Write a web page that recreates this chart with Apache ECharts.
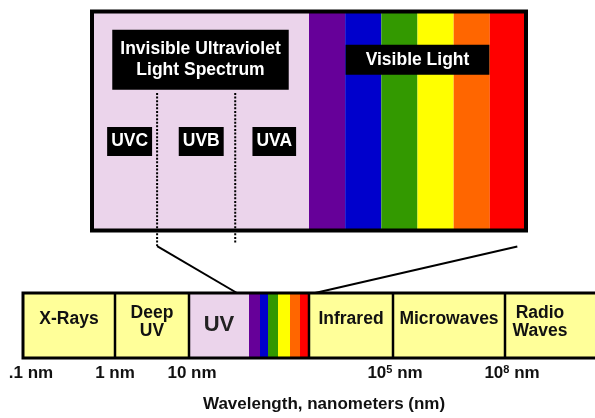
<!DOCTYPE html>
<html><head><meta charset="utf-8">
<script src="https://cdn.jsdelivr.net/npm/echarts@6/dist/echarts.min.js"></script>
<style>html,body{margin:0;padding:0;background:#fff}#c{width:595px;height:418px}</style>
</head><body><div id="c"></div>
<script>
// ================= DATA =================
// Upper (zoomed) panel, wavelength in nm
const uvRange = [100, 400];
const visibleStarts = [400, 450, 500, 550, 600, 650];
const visibleEnds   = [450, 500, 550, 600, 650, 700];
const uvSubNames   = ['UVC', 'UVB', 'UVA'];
const uvSubCenters = [152, 251, 352];
const uvDividers   = [190, 298];
const uvTitle = 'Invisible Ultraviolet\nLight Spectrum';
const uvTitleAt = 250;
const visTitle = 'Visible Light';
const visTitleAt = 550;

// Lower strip, schematic position units
const bandNames  = ['X-Rays', 'Deep\nUV', 'UV', '', 'Infrared', 'Microwaves', 'Radio\nWaves'];
const bandStarts = [0, 92, 166, 226, 286, 370, 482];
const bandEnds   = [92, 166, 226, 286, 370, 482, 552];
const stripStarts = [226, 237, 245, 255, 267, 277];
const stripEnds   = [237, 245, 255, 267, 277, 286];
const dividerAt   = [92, 166, 286, 370, 482];
const tickValues  = [0, 92, 166, 370, 482];
const tickLabels  = ['.1 nm', '1 nm', '10 nm', '10^5 nm', '10^8 nm'];
const axisTitle   = 'Wavelength, nanometers (nm)';

// zoom connectors: [upper panel point (nm, level)] -> [lower strip point]
const connTop    = [[190, -7.1], [688, -7.3]];
const connBottom = [[214, 1], [292, 1]];

// ================= STYLE =================
const FONT = '"Liberation Sans", Arial, Helvetica, sans-serif';
const PINK = '#ebd4eb';
const STRIP_YELLOW = '#ffff99';
const SPECTRUM = ['#660099', '#0000cc', '#339900', '#ffff00', '#ff6600', '#ff0000'];
const bandFill = [STRIP_YELLOW, STRIP_YELLOW, PINK, 'rgba(0,0,0,0)', STRIP_YELLOW, STRIP_YELLOW, STRIP_YELLOW];
const tickNudge = [8, 0, 3, 2, 7];
function font(sz) { return 'bold ' + sz + 'px ' + FONT; }

function rect(api, x0, x1, y0, y1, style) {
  const a = api.coord([x0, y1]), b = api.coord([x1, y0]);
  return { type: 'rect', shape: { x: a[0], y: a[1], width: b[0] - a[0], height: b[1] - a[1] }, style: style };
}

const chart = echarts.init(document.getElementById('c'));

const topStarts = [uvRange[0]].concat(visibleStarts);
const topEnds = [uvRange[1]].concat(visibleEnds);
const topColors = [PINK].concat(SPECTRUM);

const topLabels = [
  { x: uvTitleAt, y: 78, text: uvTitle, pad: [9, 8], lh: 21 },
  { x: visTitleAt, y: 78, text: visTitle, pad: [5, 20], lh: 20 }
].concat(uvSubNames.map((n, i) => ({ x: uvSubCenters[i], y: 40.6, text: n, pad: [4.5, 4], lh: 20 })));

const rich = {
  sup: { fontSize: 11, fontWeight: 'bold', fontFamily: FONT, color: '#111', verticalAlign: 'top', lineHeight: 9 }
};
tickNudge.forEach((n, i) => { rich['g' + i] = { width: 2 * n, fontSize: 17, lineHeight: 18 }; });

const option = {
  animation: false,
  backgroundColor: '#fff',
  textStyle: { fontFamily: FONT },
  title: {
    text: axisTitle, left: 203, top: 396, padding: 0,
    textStyle: { fontSize: 17, fontWeight: 'bold', fontFamily: FONT, color: '#111' }
  },
  grid: [
    { left: 92, right: 69, top: 11.5, height: 219, containLabel: false, outerBoundsMode: 'none' },
    { left: 23, right: 0, top: 293, height: 65, containLabel: false, outerBoundsMode: 'none' }
  ],
  xAxis: [
    { gridIndex: 0, type: 'value', min: 100, max: 700, show: false },
    { gridIndex: 1, type: 'value', min: 0, max: 572,
      axisLine: { show: false }, axisTick: { show: false }, splitLine: { show: false },
      axisLabel: {
        customValues: tickValues, margin: 6, fontSize: 17, fontWeight: 'bold', fontFamily: FONT,
        color: '#111', lineHeight: 18, hideOverlap: false, showMinLabel: true, showMaxLabel: true,
        formatter: function (v) {
          const i = tickValues.indexOf(v);
          if (i < 0) return '';
          const t = tickLabels[i].replace(/\^(\d+)/, '{sup|$1}');
          return (tickNudge[i] ? '{g' + i + '| }' : '') + t;
        },
        rich: rich
      } }
  ],
  yAxis: [
    { gridIndex: 0, type: 'value', min: 0, max: 100, show: false },
    { gridIndex: 1, type: 'value', min: 0, max: 1, show: false }
  ],
  series: [
    { type: 'custom', xAxisIndex: 0, yAxisIndex: 0, clip: false, z: 2,
      data: topStarts.map((s, i) => [s, topEnds[i]]),
      renderItem: (p, api) => rect(api, api.value(0), api.value(1), 0, 100, { fill: topColors[p.dataIndex] }) },
    { type: 'custom', xAxisIndex: 0, yAxisIndex: 0, clip: false, z: 3,
      data: [[topStarts[0], topEnds[topEnds.length - 1]]],
      renderItem: (p, api) => rect(api, api.value(0), api.value(1), 0, 100, { fill: 'none', stroke: '#000', lineWidth: 4 }) },
    { type: 'custom', xAxisIndex: 0, yAxisIndex: 0, clip: false, z: 3,
      data: uvDividers.map((x, i) => [x, connTop[0][1] + (i ? 1.4 : 0)]),
      renderItem: (p, api) => {
        const a = api.coord([api.value(0), 62.8]), b = api.coord([api.value(0), api.value(1)]);
        return { type: 'line', shape: { x1: a[0], y1: a[1], x2: b[0], y2: b[1] },
          style: { stroke: '#000', lineWidth: 2, lineDash: [2, 1.6] } };
      } },
    { type: 'custom', xAxisIndex: 0, yAxisIndex: 0, clip: false, z: 4,
      data: topLabels.map(l => [l.x, l.y]),
      renderItem: (p, api) => {
        const l = topLabels[p.dataIndex];
        const c = api.coord([api.value(0), api.value(1)]);
        return { type: 'text', x: c[0], y: c[1],
          style: { text: l.text, fill: '#fff', font: font(17.5), align: 'center', verticalAlign: 'middle',
            backgroundColor: '#000', padding: l.pad, lineHeight: l.lh } };
      } },
    { type: 'custom', xAxisIndex: 1, yAxisIndex: 1, clip: false, z: 2,
      data: bandStarts.map((s, i) => [s, bandEnds[i]]),
      renderItem: (p, api) => {
        const last = p.dataIndex === bandStarts.length - 1;
        const a = api.coord([api.value(0), 1]), b = api.coord([api.value(1), 0]);
        const right = last ? p.coordSys.x + p.coordSys.width + 4 : b[0];
        return { type: 'rect', shape: { x: a[0], y: a[1], width: right - a[0], height: b[1] - a[1] },
          style: { fill: bandFill[p.dataIndex] } };
      } },
    { type: 'custom', xAxisIndex: 1, yAxisIndex: 1, clip: false, z: 2,
      data: stripStarts.map((s, i) => [s, stripEnds[i]]),
      renderItem: (p, api) => rect(api, api.value(0), api.value(1), 0, 1, { fill: SPECTRUM[p.dataIndex] }) },
    { type: 'custom', xAxisIndex: 1, yAxisIndex: 1, clip: false, z: 3,
      data: [[bandStarts[0]]],
      renderItem: (p, api) => {
        const tl = api.coord([api.value(0), 1]), bl = api.coord([api.value(0), 0]);
        const r = p.coordSys.x + p.coordSys.width + 4;
        const children = [{ type: 'polyline', shape: { points: [[r, tl[1]], [tl[0], tl[1]], [bl[0], bl[1]], [r, bl[1]]] },
          style: { fill: 'none', stroke: '#000', lineWidth: 3 } }];
        dividerAt.forEach(d => {
          const a = api.coord([d, 1]), b = api.coord([d, 0]);
          children.push({ type: 'line', shape: { x1: a[0], y1: a[1], x2: b[0], y2: b[1] },
            style: { stroke: '#000', lineWidth: 2.5 } });
        });
        return { type: 'group', children: children };
      } },
    { type: 'custom', xAxisIndex: 1, yAxisIndex: 1, clip: false, z: 4,
      data: bandStarts.map((s, i) => [(s + bandEnds[i]) / 2,
        bandNames[i] === 'UV' ? 0.508 : (bandNames[i].indexOf('\n') >= 0 ? 0.554 : 0.6)]),
      renderItem: (p, api) => {
        const name = bandNames[p.dataIndex];
        if (!name) return null;
        const big = name === 'UV';
        const c = api.coord([api.value(0), api.value(1)]);
        return { type: 'text', x: c[0], y: c[1],
          style: { text: name, fill: big ? '#222' : '#111', font: font(big ? 22 : 17.5),
            align: 'center', verticalAlign: 'middle', lineHeight: 18 } };
      } }
  ]
};
chart.setOption(option);

const graphics = connTop.map((t, i) => {
  const a = chart.convertToPixel({ gridIndex: 0 }, t);
  const b = chart.convertToPixel({ gridIndex: 1 }, connBottom[i]);
  return { type: 'line', z: 5, shape: { x1: a[0], y1: a[1], x2: b[0], y2: b[1] },
    style: { stroke: '#000', lineWidth: 2 } };
});
chart.setOption({ graphic: graphics });
</script>
</body></html>
